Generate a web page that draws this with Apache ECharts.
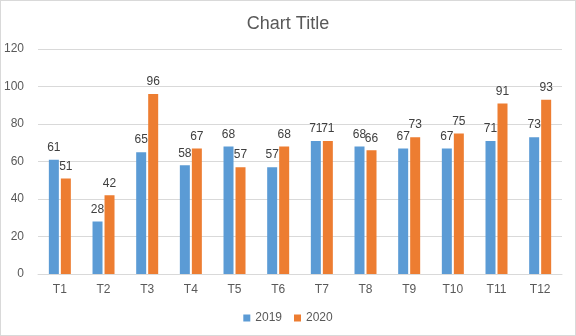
<!DOCTYPE html>
<html><head><meta charset="utf-8">
<script src="https://cdn.jsdelivr.net/npm/echarts@6/dist/echarts.min.js"></script>
<style>html,body{margin:0;padding:0;background:#fff}#c{width:574px;height:334px;border:1px solid #d9d9d9}</style>
</head><body><div id="c"></div>
<script>
var categories = ['T1','T2','T3','T4','T5','T6','T7','T8','T9','T10','T11','T12'];
var s2019 = [61,28,65,58,68,57,71,68,67,67,71,73];
var s2020 = [51,42,96,67,57,68,71,66,73,75,91,93];
var seriesNames = ['2019','2020'];
var yTicks = {min:0, max:120, interval:20};
var font = 'Liberation Sans, Arial, sans-serif';
var chart = echarts.init(document.getElementById('c'));
var lbl = {show:true, position:'top', color:'#404040', fontSize:12, fontFamily:font, distance:6};
chart.setOption({
  animation:false,
  title:{text:'Chart Title', left:'center', top:9, textStyle:{color:'#595959', fontSize:18, fontWeight:'normal', fontFamily:font}},
  grid:{left:37, right:13, top:48, bottom:61},
  legend:{data:seriesNames, bottom:6, left:'center', itemWidth:7, itemHeight:7, itemGap:12, icon:'rect', textStyle:{color:'#595959', fontSize:12, fontFamily:font}},
  xAxis:{type:'category', data:categories, axisTick:{show:false}, axisLine:{lineStyle:{color:'#d9d9d9'}}, axisLabel:{color:'#595959', fontSize:12, fontFamily:font, margin:10}},
  yAxis:{type:'value', min:yTicks.min, max:yTicks.max, interval:yTicks.interval, axisLine:{show:false}, axisTick:{show:false}, splitLine:{lineStyle:{color:'#d9d9d9'}}, axisLabel:{color:'#595959', fontSize:12, fontFamily:font, margin:14}},
  series:[
    {name:seriesNames[0], type:'bar', data:s2019, barWidth:10, barGap:'20%', itemStyle:{color:'#5B9BD5'}, label:lbl},
    {name:seriesNames[1], type:'bar', data:s2020, barWidth:10, barGap:'20%', itemStyle:{color:'#ED7D31'}, label:lbl}
  ]
});
</script></body></html>
